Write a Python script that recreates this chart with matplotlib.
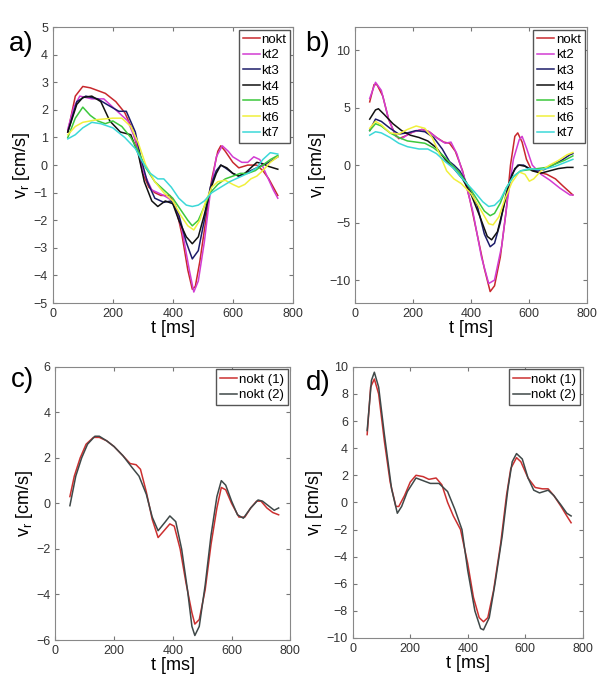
import numpy as np
import matplotlib.pyplot as plt

plt.rcParams['font.family'] = ['Liberation Sans', 'DejaVu Sans']
plt.rcParams['mathtext.fontset'] = 'custom'
plt.rcParams['mathtext.rm'] = 'Liberation Sans'
plt.rcParams['mathtext.it'] = 'Liberation Sans'

# ---- panel a: v_r, all cases ----
a_nokt_t = [50, 75, 100, 125, 150, 175, 210, 240, 265, 285, 300, 320, 340, 360, 390, 410, 430, 450, 465, 475, 490, 510, 530, 550, 560, 575, 600, 620, 650, 680, 700, 720, 750]
a_nokt_v = [1.2, 2.5, 2.85, 2.8, 2.7, 2.6, 2.3, 1.9, 1.3, 0.5, -0.3, -0.8, -1.0, -1.1, -1.1, -1.5, -2.5, -3.8, -4.5, -4.4, -3.5, -2.0, -0.5, 0.5, 0.7, 0.5, 0.1, -0.1, 0.0, 0.0, -0.2, -0.5, -1.1]
a_kt2_t = [50, 70, 90, 130, 170, 210, 250, 280, 300, 330, 370, 400, 430, 455, 470, 485, 505, 525, 545, 565, 585, 600, 630, 650, 670, 690, 710, 735, 750]
a_kt2_v = [1.3, 2.1, 2.5, 2.4, 2.4, 2.0, 1.6, 0.8, -0.2, -0.9, -1.1, -1.3, -2.3, -3.8, -4.6, -4.2, -2.8, -1.0, 0.3, 0.7, 0.5, 0.3, 0.1, 0.1, 0.3, 0.2, -0.3, -0.9, -1.2]
a_kt3_t = [50, 80, 110, 150, 180, 220, 245, 275, 295, 315, 340, 370, 395, 420, 445, 465, 485, 505, 525, 545, 560, 575, 600, 620, 640, 660, 680, 700, 720, 750]
a_kt3_v = [1.2, 2.3, 2.5, 2.4, 2.2, 1.95, 1.95, 1.2, 0.2, -0.6, -1.2, -1.35, -1.3, -1.8, -2.8, -3.4, -3.1, -2.0, -0.8, -0.2, 0.0, -0.1, -0.3, -0.4, -0.3, -0.2, -0.1, 0.0, 0.1, 0.3]
a_kt4_t = [50, 80, 100, 130, 160, 190, 225, 260, 285, 305, 330, 350, 375, 400, 420, 445, 465, 485, 505, 525, 545, 560, 580, 600, 620, 640, 660, 680, 700, 720, 750]
a_kt4_v = [1.2, 2.2, 2.45, 2.5, 2.3, 1.6, 1.2, 1.1, 0.4, -0.6, -1.3, -1.5, -1.3, -1.4, -2.0, -2.6, -2.85, -2.6, -1.8, -0.9, -0.3, 0.0, -0.1, -0.3, -0.4, -0.3, -0.1, 0.1, 0.05, -0.05, -0.15]
a_kt5_t = [50, 75, 100, 125, 150, 175, 200, 230, 260, 285, 310, 340, 370, 400, 425, 450, 465, 485, 505, 525, 550, 575, 600, 625, 650, 675, 700, 725, 750]
a_kt5_v = [1.0, 1.7, 2.1, 1.8, 1.6, 1.5, 1.6, 1.4, 1.0, 0.5, -0.1, -0.6, -0.9, -1.2, -1.6, -2.0, -2.2, -2.0, -1.5, -1.0, -0.7, -0.5, -0.4, -0.3, -0.3, -0.2, 0.0, 0.2, 0.35]
a_kt6_t = [50, 75, 100, 150, 200, 230, 260, 285, 310, 340, 370, 400, 425, 450, 470, 490, 510, 530, 550, 575, 600, 620, 640, 660, 680, 700, 725, 750]
a_kt6_v = [1.1, 1.4, 1.55, 1.65, 1.7, 1.7, 1.4, 0.8, 0.0, -0.6, -1.0, -1.3, -1.8, -2.2, -2.35, -2.0, -1.3, -0.8, -0.6, -0.55, -0.7, -0.8, -0.7, -0.5, -0.4, -0.2, 0.1, 0.3]
a_kt7_t = [50, 75, 100, 130, 160, 200, 240, 275, 300, 325, 350, 370, 395, 420, 445, 465, 485, 505, 530, 560, 590, 620, 650, 680, 700, 725, 750]
a_kt7_v = [0.95, 1.1, 1.35, 1.55, 1.5, 1.35, 1.0, 0.6, 0.1, -0.3, -0.5, -0.5, -0.8, -1.2, -1.45, -1.5, -1.45, -1.3, -1.0, -0.8, -0.6, -0.45, -0.3, -0.1, 0.2, 0.45, 0.4]

# ---- panel b: v_l, all cases ----
b_nokt_t = [50, 65, 75, 95, 115, 135, 150, 170, 200, 230, 255, 280, 305, 325, 345, 370, 395, 420, 445, 465, 480, 500, 520, 535, 550, 560, 575, 590, 605, 630, 660, 690, 715, 750]
b_nokt_v = [5.5, 7.0, 7.0, 6.0, 4.0, 2.8, 2.3, 2.5, 2.9, 3.1, 2.9, 2.4, 2.0, 1.9, 1.2, -0.5, -3.0, -6.0, -9.0, -11.0, -10.5, -8.0, -4.0, 0.0, 2.5, 2.8, 2.0, 0.5, -0.3, -0.6, -0.8, -1.2, -1.8, -2.6]
b_kt2_t = [50, 70, 90, 115, 140, 160, 190, 230, 255, 285, 310, 330, 350, 375, 405, 435, 460, 480, 505, 525, 545, 565, 575, 590, 610, 640, 670, 705, 740, 750]
b_kt2_v = [5.8, 7.2, 6.5, 4.0, 2.5, 2.3, 2.8, 3.1, 2.9, 2.3, 1.9, 2.0, 1.0, -1.0, -4.0, -8.0, -10.3, -10.0, -7.0, -3.0, 0.5, 2.2, 2.5, 1.5, 0.0, -0.8, -1.3, -2.0, -2.6, -2.6]
b_kt3_t = [50, 70, 90, 120, 150, 180, 210, 240, 270, 300, 325, 340, 360, 385, 420, 445, 465, 480, 500, 520, 540, 560, 580, 600, 620, 650, 680, 710, 740, 750]
b_kt3_v = [3.0, 4.0, 3.8, 3.2, 2.7, 2.8, 3.0, 2.9, 2.4, 1.4, 0.3, 0.0, -0.5, -1.6, -3.5, -6.0, -7.1, -6.8, -5.0, -2.5, -0.8, 0.0, 0.0, -0.3, -0.5, -0.4, 0.0, 0.4, 0.9, 1.0]
b_kt4_t = [50, 70, 80, 100, 130, 160, 190, 220, 250, 280, 310, 340, 370, 400, 430, 455, 470, 490, 510, 530, 550, 565, 585, 610, 640, 670, 700, 730, 750]
b_kt4_v = [4.0, 4.8, 4.9, 4.4, 3.6, 3.0, 2.6, 2.4, 2.1, 1.5, 0.5, -0.3, -1.2, -2.6, -4.5, -6.2, -6.5, -5.8, -3.8, -1.6, -0.3, 0.0, -0.1, -0.5, -0.7, -0.5, -0.3, -0.2, -0.2]
b_kt5_t = [50, 70, 90, 120, 150, 180, 210, 240, 270, 300, 330, 360, 390, 420, 445, 465, 480, 500, 520, 545, 570, 600, 630, 660, 690, 720, 750]
b_kt5_v = [3.0, 3.6, 3.4, 2.8, 2.4, 2.1, 2.0, 1.9, 1.5, 0.9, 0.1, -0.7, -1.8, -3.0, -4.0, -4.4, -4.2, -3.3, -2.0, -1.0, -0.5, -0.4, -0.3, -0.2, 0.1, 0.4, 0.8]
b_kt6_t = [50, 70, 90, 120, 150, 180, 210, 240, 265, 290, 315, 340, 365, 400, 435, 460, 475, 495, 515, 540, 565, 585, 600, 615, 640, 670, 700, 730, 750]
b_kt6_v = [3.2, 3.8, 3.5, 2.8, 2.7, 3.1, 3.4, 3.2, 2.4, 1.0, -0.5, -1.2, -1.6, -2.5, -4.0, -5.1, -5.2, -4.5, -3.0, -1.5, -0.6, -0.8, -1.4, -1.2, -0.5, 0.0, 0.4, 0.9, 1.1]
b_kt7_t = [50, 70, 90, 120, 150, 180, 220, 250, 280, 310, 340, 370, 410, 440, 460, 480, 500, 520, 545, 570, 600, 630, 660, 690, 720, 750]
b_kt7_v = [2.6, 2.9, 2.8, 2.4, 1.9, 1.6, 1.4, 1.4, 1.0, 0.3, -0.3, -1.2, -2.3, -3.2, -3.6, -3.5, -3.0, -2.0, -1.0, -0.5, -0.3, -0.4, -0.3, -0.1, 0.2, 0.5]

# ---- panel c: v_r, repeated nokt ----
c_n1_t = [50, 65, 85, 105, 130, 150, 175, 200, 230, 255, 275, 290, 310, 330, 350, 370, 390, 405, 425, 445, 465, 475, 490, 510, 530, 550, 565, 580, 600, 625, 645, 665, 685, 700, 720, 740, 760]
c_n1_v = [0.3, 1.2, 2.0, 2.6, 2.9, 2.9, 2.75, 2.5, 2.1, 1.75, 1.7, 1.5, 0.5, -0.7, -1.5, -1.2, -0.9, -1.0, -2.0, -3.5, -4.8, -5.3, -5.1, -3.8, -1.8, -0.2, 0.7, 0.6, 0.0, -0.6, -0.6, -0.2, 0.1, 0.1, -0.2, -0.4, -0.5]
c_n2_t = [50, 70, 90, 110, 135, 150, 175, 200, 230, 260, 285, 310, 330, 350, 375, 390, 410, 430, 450, 465, 475, 490, 510, 530, 550, 565, 580, 600, 620, 640, 665, 690, 705, 725, 745, 760]
c_n2_v = [-0.1, 1.2, 2.0, 2.6, 2.95, 2.95, 2.75, 2.5, 2.1, 1.6, 1.2, 0.4, -0.6, -1.2, -0.8, -0.55, -0.8, -2.0, -3.8, -5.4, -5.8, -5.4, -3.6, -1.4, 0.3, 1.0, 0.8, 0.1, -0.5, -0.65, -0.2, 0.15, 0.1, -0.1, -0.3, -0.2]

# ---- panel d: v_l, repeated nokt ----
d_n1_t = [50, 62, 75, 90, 110, 130, 150, 160, 180, 200, 220, 245, 265, 290, 310, 330, 350, 375, 400, 420, 440, 455, 470, 490, 515, 535, 550, 570, 585, 610, 635, 660, 680, 700, 725, 745, 760]
d_n1_v = [5.0, 8.5, 9.1, 8.0, 4.5, 1.5, -0.3, -0.3, 0.5, 1.5, 2.0, 1.9, 1.7, 1.8, 1.3, 0.0, -1.0, -2.0, -4.5, -7.0, -8.5, -8.8, -8.5, -6.5, -3.0, 0.5, 2.5, 3.3, 3.0, 1.8, 1.1, 1.0, 1.0, 0.5, -0.3, -1.0, -1.5]
d_n2_t = [50, 65, 75, 90, 110, 135, 155, 170, 190, 220, 245, 270, 300, 330, 355, 380, 400, 425, 445, 455, 475, 495, 520, 540, 555, 570, 590, 610, 630, 650, 680, 700, 725, 745, 760]
d_n2_v = [5.3, 9.0, 9.6, 8.5, 5.0, 1.0, -0.8, -0.3, 0.8, 1.8, 1.6, 1.4, 1.4, 0.8, -0.5, -2.0, -5.0, -8.0, -9.3, -9.4, -8.5, -6.0, -2.5, 1.0, 3.0, 3.6, 3.2, 1.8, 0.9, 0.7, 0.9, 0.5, -0.2, -0.8, -1.0]

top_labels = ['nokt', 'kt2', 'kt3', 'kt4', 'kt5', 'kt6', 'kt7']
top_colors = ['#c8282d', '#d23cd2', '#1c1c6a', '#111111', '#3cc83c', '#f0f03c', '#3cd8d8']
bot_labels = ['nokt (1)', 'nokt (2)']
bot_colors = ['#cc3030', '#3f4848']

fig = plt.figure(figsize=(6, 6.78), dpi=100)
ax_a = fig.add_axes([0.088, 0.553, 0.400, 0.407])
ax_b = fig.add_axes([0.592, 0.553, 0.387, 0.407])
ax_c = fig.add_axes([0.092, 0.056, 0.392, 0.403])
ax_d = fig.add_axes([0.588, 0.059, 0.383, 0.400])

a_series = [(a_nokt_t, a_nokt_v), (a_kt2_t, a_kt2_v), (a_kt3_t, a_kt3_v), (a_kt4_t, a_kt4_v),
            (a_kt5_t, a_kt5_v), (a_kt6_t, a_kt6_v), (a_kt7_t, a_kt7_v)]
b_series = [(b_nokt_t, b_nokt_v), (b_kt2_t, b_kt2_v), (b_kt3_t, b_kt3_v), (b_kt4_t, b_kt4_v),
            (b_kt5_t, b_kt5_v), (b_kt6_t, b_kt6_v), (b_kt7_t, b_kt7_v)]

for ax, series in [(ax_a, a_series), (ax_b, b_series)]:
    for (t, v), lab, col in zip(series, top_labels, top_colors):
        ax.plot(t, v, color=col, lw=1.1, label=lab)

for ax, series in [(ax_c, [(c_n1_t, c_n1_v), (c_n2_t, c_n2_v)]),
                   (ax_d, [(d_n1_t, d_n1_v), (d_n2_t, d_n2_v)])]:
    for (t, v), lab, col in zip(series, bot_labels, bot_colors):
        ax.plot(t, v, color=col, lw=1.1, label=lab)

ax_a.set_ylim(-5, 5)
ax_a.set_yticks(np.arange(-5, 6, 1))
ax_b.set_ylim(-12, 12)
ax_b.set_yticks([-10, -5, 0, 5, 10])
ax_c.set_ylim(-6, 6)
ax_c.set_yticks(np.arange(-6, 7, 2))
ax_d.set_ylim(-10, 10)
ax_d.set_yticks(np.arange(-10, 11, 2))

ylabels = [r'v$_\mathregular{r}$ [cm/s]', r'v$_\mathregular{l}$ [cm/s]',
           r'v$_\mathregular{r}$ [cm/s]', r'v$_\mathregular{l}$ [cm/s]']
for ax, yl in zip([ax_a, ax_b, ax_c, ax_d], ylabels):
    ax.set_xlim(0, 800)
    ax.set_xticks([0, 200, 400, 600, 800])
    ax.tick_params(direction='in', top=True, right=True, labelsize=9,
                   labelcolor='#333333', color='#777777', length=3)
    for s in ax.spines.values():
        s.set_color('#888888')
        s.set_linewidth(0.8)
    ax.set_xlabel('t [ms]', fontsize=13, labelpad=0)
    ax.set_ylabel(yl, fontsize=13, labelpad=1)
    ax.legend(loc='upper right', fontsize=9.5, handlelength=1.3, handletextpad=0.1,
              borderpad=0.3, labelspacing=0.25, fancybox=False, edgecolor='#555555',
              framealpha=1, borderaxespad=0.2)

for txt, x, y in [('a)', 0.035, 0.935), ('b)', 0.53, 0.935), ('c)', 0.037, 0.44), ('d)', 0.53, 0.435)]:
    fig.text(x, y, txt, fontsize=20, ha='center', va='center')

fig.savefig('out.png', dpi=100)
